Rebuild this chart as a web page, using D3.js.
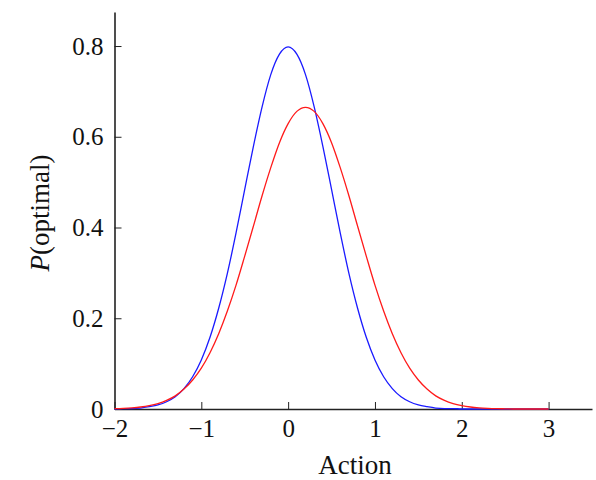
<!DOCTYPE html>
<html>
<head>
<meta charset="utf-8">
<script src="https://cdn.jsdelivr.net/npm/d3@7"></script>
<style>
  body { margin: 0; background: #fff; }
  svg { display: block; }
</style>
</head>
<body>
<div class="canvas"></div>
<script>
"use strict";

// action values, read every 0.1 from -2 to 3
const actions = d3.range(51).map((i) => -2 + i / 10);

// blue curve (peaks near 0.8 at action 0)
const blueValues = [
  0.000, 0.001, 0.001, 0.002, 0.005, 0.009, 0.016, 0.027, 0.045, 0.071,
  0.108, 0.158, 0.222, 0.299, 0.388, 0.484, 0.579, 0.666, 0.737, 0.782,
  0.798, 0.782, 0.737, 0.666, 0.579, 0.484, 0.388, 0.299, 0.222, 0.158,
  0.108, 0.071, 0.045, 0.027, 0.016, 0.009, 0.005, 0.002, 0.001, 0.001,
  0.000, 0.000, 0.000, 0.000, 0.000, 0.000, 0.000, 0.000, 0.000, 0.000,
  0.000
];

// red curve (wider, peak about 0.665 near action 0.2)
const redValues = [
  0.0008, 0.0015, 0.0026, 0.0044, 0.0074, 0.012, 0.019, 0.029, 0.044, 0.064,
  0.090, 0.124, 0.166, 0.216, 0.273, 0.337, 0.403, 0.470, 0.532, 0.587,
  0.629, 0.656, 0.665, 0.656, 0.629, 0.587, 0.532, 0.470, 0.403, 0.337,
  0.273, 0.216, 0.166, 0.124, 0.090, 0.064, 0.044, 0.029, 0.019, 0.012,
  0.0074, 0.0044, 0.0026, 0.0015, 0.0008, 0.0004, 0.000, 0.000, 0.000, 0.000,
  0.000
];

const xTicks = [-2, -1, 0, 1, 2, 3];
const yTicks = [0, 0.2, 0.4, 0.6, 0.8];

const width = 596;
const height = 480;
const margin = { top: 12, right: 4, bottom: 71, left: 114.5 };
const font = "'Liberation Serif', 'Times New Roman', serif";

const svg = d3
  .select(".canvas")
  .append("svg")
  .attr("width", width)
  .attr("height", height)
  .style("background-color", "#fff");

const x = d3
  .scaleLinear()
  .domain([-2, 3.5])
  .range([margin.left, width - margin.right]);
const y = d3
  .scaleLinear()
  .domain([0, 0.875])
  .range([height - margin.bottom, margin.top]);

const fmt = (d) => (d === 0 ? "0" : d3.format(".1f")(d));

const xAxis = svg
  .append("g")
  .attr("transform", `translate(0,${height - margin.bottom})`)
  .call(
    d3.axisBottom(x).tickValues(xTicks).tickSize(-7).tickSizeOuter(0).tickPadding(10)
      .tickFormat(d3.format("d"))
  );

const yAxis = svg
  .append("g")
  .attr("transform", `translate(${margin.left},0)`)
  .call(
    d3.axisLeft(y).tickValues(yTicks).tickSize(-7).tickSizeOuter(0).tickPadding(11)
      .tickFormat(fmt)
  );

[xAxis, yAxis].forEach((g) => {
  g.select(".domain").attr("stroke", "#222").attr("stroke-width", 1.6);
  g.selectAll(".tick line").attr("stroke", "#222").attr("stroke-width", 1);
  g.selectAll(".tick text")
    .attr("fill", "#111")
    .style("font-family", font)
    .style("font-size", "25px");
});

// curves
const line = (vals) =>
  d3
    .line()
    .x((d, i) => x(actions[i]))
    .y((d) => y(d))
    .curve(d3.curveMonotoneX)(vals);

svg
  .append("path")
  .attr("d", line(blueValues))
  .attr("fill", "none")
  .attr("stroke", "#1a1aff")
  .attr("stroke-width", 1.3);

svg
  .append("path")
  .attr("d", line(redValues))
  .attr("fill", "none")
  .attr("stroke", "#ff1a1a")
  .attr("stroke-width", 1.3);

// axis titles
svg
  .append("text")
  .attr("x", 355)
  .attr("y", 474)
  .attr("text-anchor", "middle")
  .attr("fill", "#111")
  .style("font-family", font)
  .style("font-size", "27px")
  .text("Action");

const yTitle = svg
  .append("text")
  .attr("transform", `translate(49,213) rotate(-90)`)
  .attr("text-anchor", "middle")
  .attr("fill", "#111")
  .style("font-family", font)
  .style("font-size", "27px");
yTitle.append("tspan").style("font-style", "italic").text("P");
yTitle.append("tspan").text("(optimal)");
</script>
</body>
</html>
